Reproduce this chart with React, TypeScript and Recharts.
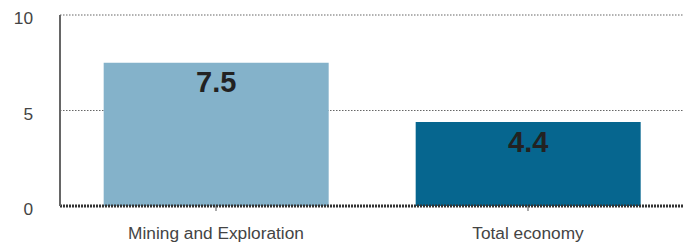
import { BarChart, Bar, XAxis, YAxis, CartesianGrid, Cell, LabelList } from 'recharts';

const categories = ['Mining and Exploration', 'Total economy'];
const values = [7.5, 4.4];
const barColors = ['#84b2ca', '#06668f'];
const yTicks = [0, 5, 10];

const data = categories.map((name, i) => ({ name, value: values[i] }));

export default function App() {
  return (
    <div style={{ position: 'absolute', left: 0, top: 0, fontFamily: 'Arial, "Liberation Sans", sans-serif' }}>
      <BarChart
        width={693}
        height={243}
        data={data}
        margin={{ top: 15, right: 9, left: 0, bottom: 0 }}
        barCategoryGap="14%"
      >
        <CartesianGrid vertical={false} stroke="#666" strokeWidth={1.2} strokeDasharray="1.5 1.5" />
        <XAxis
          dataKey="name"
          height={37}
          axisLine={{ stroke: '#333', strokeWidth: 3, strokeDasharray: '2 1' }}
          tickLine={{ stroke: '#555' }}
          tickSize={5}
          tickMargin={16}
          tick={{ fontSize: 17.3, fill: '#444' }}
        />
        <YAxis
          width={60}
          domain={[0, 10]}
          ticks={yTicks}
          axisLine={{ stroke: '#666', strokeWidth: 2 }}
          tickLine={false}
          tickMargin={21}
          tick={{ fontSize: 17.3, fill: '#444', dy: 3 }}
        />
        <Bar dataKey="value" isAnimationActive={false}>
          {data.map((d, i) => (
            <Cell key={d.name} fill={barColors[i]} />
          ))}
          <LabelList
            dataKey="value"
            position="insideTop"
            offset={9}
            style={{ fontSize: 29, fontWeight: 'bold', fill: '#222' }}
          />
        </Bar>
      </BarChart>
    </div>
  );
}
